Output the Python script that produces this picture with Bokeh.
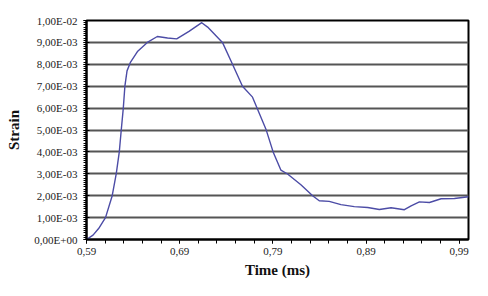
from bokeh.plotting import figure
from bokeh.models import FixedTicker, CustomJSTickFormatter, Range1d
from bokeh.embed import file_html
from bokeh.resources import INLINE

# Data
time_ms = [0.590, 0.597, 0.603, 0.6104, 0.6176, 0.6219, 0.6252, 0.6273, 0.6295,
           0.6312, 0.6335, 0.6373, 0.645, 0.6553, 0.666, 0.677, 0.6868, 0.700, 0.7137,
           0.720, 0.7359, 0.7467, 0.7574, 0.7682, 0.7825, 0.7903, 0.7986, 0.8058,
           0.8201, 0.8327, 0.8398, 0.8505, 0.8631, 0.8774, 0.8918, 0.9043, 0.9169,
           0.9312, 0.9384, 0.9473, 0.9581, 0.9706, 0.9849, 1.000]
strain = [0.0, 0.0002, 0.0005, 0.0010, 0.0020, 0.0030, 0.0040, 0.0050, 0.0060,
          0.0070, 0.0077, 0.0081, 0.0086, 0.0090, 0.00927, 0.0092, 0.00916, 0.0095, 0.0099,
          0.0097, 0.0090, 0.0080, 0.0070, 0.0065, 0.00505, 0.0040, 0.00317, 0.00299,
          0.0025, 0.0020, 0.00177, 0.00174, 0.00159, 0.0015, 0.00146, 0.00137, 0.00145,
          0.00136, 0.00154, 0.00172, 0.00169, 0.00186, 0.00187, 0.00195]

x_ticks = [0.59, 0.69, 0.79, 0.89, 0.99]
x_tick_labels = ["0,59", "0,69", "0,79", "0,89", "0,99"]
x_minor_ticks = [0.59, 0.61, 0.63, 0.65, 0.67, 0.69, 0.71, 0.73, 0.75, 0.77, 0.79,
                 0.81, 0.83, 0.85, 0.87, 0.89, 0.91, 0.93, 0.95, 0.97, 0.99]
y_ticks = [0.000, 0.001, 0.002, 0.003, 0.004, 0.005, 0.006, 0.007, 0.008, 0.009, 0.010]
y_tick_labels = ["0,00E+00", "1,00E-03", "2,00E-03", "3,00E-03", "4,00E-03", "5,00E-03",
                 "6,00E-03", "7,00E-03", "8,00E-03", "9,00E-03", "1,00E-02"]
y_minor_ticks = [i * 0.0001 for i in range(101)]

p = figure(width=472, height=280, output_backend="svg", toolbar_location=None,
           x_range=Range1d(0.59, 1.0), y_range=Range1d(0.0, 0.01),
           min_border_left=86, min_border_top=20, min_border_right=4, min_border_bottom=41)
p.background_fill_color = "white"
p.border_fill_color = "white"
p.outline_line_color = "black"
p.outline_line_width = 2

p.line(time_ms, strain, line_color="#4c4ca6", line_width=1.4, line_join="round")

js = """
let best = 0, bd = 1e9;
for (let i = 0; i < tvals.length; i++) {
  const d = Math.abs(tvals[i] - tick);
  if (d < bd) { bd = d; best = i; }
}
return bd < 1e-7 ? tlabels[best] : "";
"""

xa = p.xaxis[0]
xa.ticker = FixedTicker(ticks=x_ticks, minor_ticks=x_minor_ticks)
xa.formatter = CustomJSTickFormatter(args=dict(tvals=x_ticks, tlabels=x_tick_labels), code=js)
xa.axis_label = "Time (ms)"

ya = p.yaxis[0]
ya.ticker = FixedTicker(ticks=y_ticks, minor_ticks=y_minor_ticks)
ya.formatter = CustomJSTickFormatter(args=dict(tvals=y_ticks, tlabels=y_tick_labels), code=js)
ya.axis_label = "Strain"

for ax in (xa, ya):
    ax.axis_line_color = "black"
    ax.axis_line_width = 2
    ax.major_tick_line_color = "black"
    ax.minor_tick_line_color = "black"
    ax.major_label_text_font = "Liberation Serif"
    ax.major_label_text_font_size = "11px"
    ax.major_label_text_color = "#222222"
    ax.axis_label_text_font = "Liberation Serif"
    ax.axis_label_text_font_style = "bold"
    ax.axis_label_text_font_size = "15px"
    ax.axis_label_text_color = "#111111"

xa.major_tick_in = 0
xa.major_tick_out = 4
xa.minor_tick_in = 0
xa.minor_tick_out = 4
xa.major_label_standoff = 4
xa.axis_label_standoff = 4

ya.major_tick_in = 3
ya.major_tick_out = 3
ya.minor_tick_in = 0
ya.minor_tick_out = 3
ya.major_label_standoff = 6
ya.axis_label_standoff = 9

p.xgrid.grid_line_color = None
p.ygrid.ticker = FixedTicker(ticks=y_ticks)
p.ygrid.grid_line_color = "#555555"
p.ygrid.grid_line_width = 2

open("out.html", "w").write(file_html(p, INLINE))
